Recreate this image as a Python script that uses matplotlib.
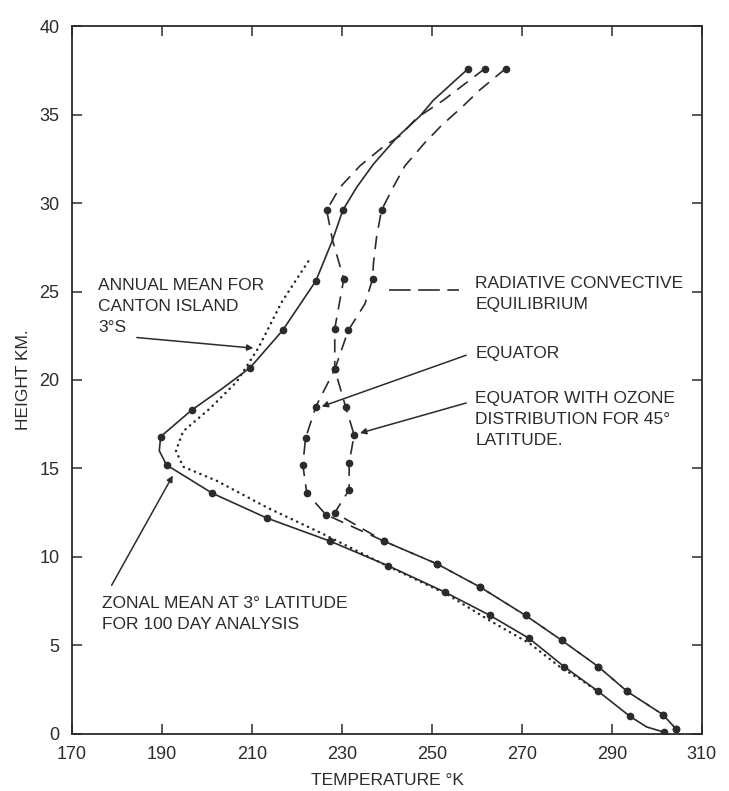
#!/usr/bin/env python
"""Tropical temperature profiles: observed vs radiative convective equilibrium.
"""

import numpy as np
import matplotlib.pyplot as plt
from matplotlib import font_manager

# zonal mean at 3 deg latitude, 100 day analysis (solid)
zonal_t = [258.1, 250.3, 247.3, 242.2, 237.0, 233.3, 230.2, 227.9, 224.2, 216.8,
           209.6, 203.3, 196.6, 189.7, 189.4, 191.0, 201.2, 213.3, 227.3, 240.3,
           253.0, 262.9, 271.6, 279.4, 287.0, 294.0, 297.7, 301.6]
zonal_h = [37.6, 35.8, 34.9, 33.7, 32.2, 30.9, 29.6, 27.9, 25.6, 22.8,
           20.7, 19.5, 18.3, 16.8, 16.0, 15.2, 13.6, 12.2, 10.9, 9.5,
           8.0, 6.7, 5.4, 3.8, 2.4, 1.0, 0.4, 0.1]
zonal_marks = [0, 6, 8, 9, 10, 12, 13, 15, 16, 17, 18, 19, 20, 21, 22, 23, 24, 25, 27]

# annual mean for Canton Island 3S (dotted)
canton_t = [222.5, 216.6, 211.4, 206.6, 200.7, 194.7, 193.1, 194.7, 202.2, 213.3,
            225.8, 239.2, 253.3, 262.9, 271.8, 278.4, 282.9, 286.9]
canton_h = [26.7, 24.4, 21.8, 19.9, 18.4, 17.1, 16.0, 15.1, 14.3, 12.8,
            11.3, 9.6, 7.9, 6.4, 5.1, 3.8, 3.1, 2.4]

# radiative convective equilibrium, equator (dashed, left branch in stratosphere)
equator_t = [261.8, 252.5, 246.6, 242.9, 238.8, 234.0, 229.6, 226.6, 227.9, 230.4,
             228.4, 228.4, 224.2, 221.9, 221.3, 222.2, 226.4]
equator_h = [37.6, 35.8, 34.8, 33.8, 33.1, 32.1, 30.9, 29.6, 27.9, 25.7,
             22.9, 20.6, 18.5, 16.7, 15.2, 13.6, 12.4]
equator_marks = [0, 7, 9, 10, 11, 12, 13, 14, 15, 16]

# equator with ozone distribution for 45 deg latitude (dashed, right branch)
ozone_t = [266.4, 260.7, 256.6, 252.2, 248.4, 244.0, 241.4, 238.8, 237.7, 237.0,
           236.8, 235.1, 231.4, 228.4, 230.8, 232.7, 231.6, 231.6, 228.4]
ozone_h = [37.6, 36.4, 35.4, 34.4, 33.4, 32.1, 30.9, 29.6, 28.1, 26.6,
           25.7, 24.3, 22.8, 20.6, 18.5, 16.9, 15.3, 13.8, 12.5]
ozone_marks = [0, 7, 10, 12, 13, 14, 15, 16, 17, 18]

# troposphere shared by both equilibrium curves
tropo_t = [239.3, 251.2, 260.7, 270.8, 278.8, 287.0, 293.4, 301.3, 304.2]
tropo_h = [10.9, 9.6, 8.3, 6.7, 5.3, 3.8, 2.4, 1.1, 0.3]

xticks = [170, 190, 210, 230, 250, 270, 290, 310]
yticks = [0, 5, 10, 15, 20, 25, 30, 35, 40]

ink = '#2b2b2b'

# narrow lettering if available, otherwise a smaller Arial-like face
installed = {f.name for f in font_manager.fontManager.ttflist}
if 'Liberation Sans Narrow' in installed:
    family, fs, tfs = 'Liberation Sans Narrow', 13.5, 13
else:
    family, fs, tfs = 'Liberation Sans', 12.5, 13
plt.rcParams['font.family'] = [family, 'DejaVu Sans']
lsp = 1.5

fig = plt.figure(figsize=(7.29, 7.91), dpi=100)
ax = fig.add_axes([0.0988, 0.0721, 0.864, 0.895])

ax.plot(zonal_t, zonal_h, '-', color=ink, lw=1.2, marker='o', ms=4.5,
        markevery=zonal_marks)
ax.plot(canton_t, canton_h, color=ink, lw=1.8, linestyle=(0, (0.1, 2.3)),
        dash_capstyle='round')

for t, h, marks in [(equator_t, equator_h, equator_marks),
                    (ozone_t, ozone_h, ozone_marks)]:
    n = len(t)
    allt = t + tropo_t
    allh = h + tropo_h
    ax.plot(allt, allh, color=ink, lw=1.2, dashes=(8, 5), marker='o', ms=4.5,
            markevery=marks + list(range(n, n + len(tropo_t))))

# legend-like dash sample
ax.plot([240.4, 256.0], [25.1, 25.1], color=ink, lw=1.2, dashes=(13, 4.5))

ax.text(175.8, 24.15, 'ANNUAL MEAN FOR\nCANTON ISLAND\n3°S', fontsize=fs,
        ha='left', va='center', linespacing=lsp, color=ink)
ax.text(259.6, 24.85, 'RADIATIVE CONVECTIVE\nEQUILIBRIUM', fontsize=fs,
        ha='left', va='center', linespacing=lsp, color=ink)
ax.text(259.6, 21.5, 'EQUATOR', fontsize=fs, ha='left', va='center', color=ink)
ax.text(259.6, 17.75, 'EQUATOR WITH OZONE\nDISTRIBUTION FOR 45°\nLATITUDE.',
        fontsize=fs, ha='left', va='center', linespacing=lsp, color=ink)
ax.text(176.6, 6.8, 'ZONAL MEAN AT 3° LATITUDE\nFOR 100 DAY ANALYSIS',
        fontsize=fs, ha='left', va='center', linespacing=lsp, color=ink)

arrow = dict(arrowstyle='-|>', color=ink, lw=1.1, mutation_scale=9,
             shrinkA=0, shrinkB=0)
ax.annotate('', xy=(210.3, 21.8), xytext=(184.4, 22.4), arrowprops=arrow)
ax.annotate('', xy=(225.5, 18.5), xytext=(257.6, 21.4), arrowprops=arrow)
ax.annotate('', xy=(234.0, 17.0), xytext=(257.6, 18.7), arrowprops=arrow)
ax.annotate('', xy=(192.4, 14.6), xytext=(178.8, 8.4), arrowprops=arrow)

ax.set_xlim(170, 310)
ax.set_ylim(0, 40)
ax.set_xticks(xticks)
ax.set_yticks(yticks)
ax.tick_params(direction='in', length=7, width=1.1, color=ink, labelsize=tfs,
               labelcolor=ink, top=True, right=True, pad=9)
for s in ax.spines.values():
    s.set_color(ink)
    s.set_linewidth(1.3)

ax.set_xlabel('TEMPERATURE °K', fontsize=12.5, color=ink, labelpad=7)
ax.set_ylabel('HEIGHT KM.', fontsize=12.5, color=ink, labelpad=6)

fig.savefig('out.png', dpi=100)
